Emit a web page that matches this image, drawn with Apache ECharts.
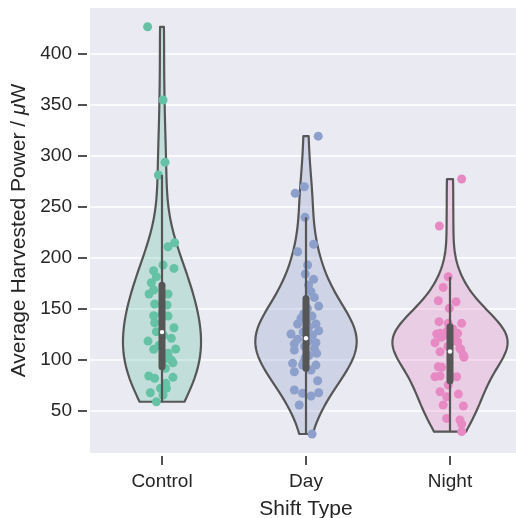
<!DOCTYPE html>
<html lang="en">
<head>
    <meta charset="UTF-8">
    <title>Harvested Power by Shift Type</title>
    <script src="https://cdn.jsdelivr.net/npm/echarts@6/dist/echarts.min.js"></script>
    <style>
        body, html {
            margin: 0;
            padding: 0;
            background-color: #ffffff;
        }
        #chart {
            width: 516px;
            height: 518px;
        }
    </style>
</head>
<body>
    <div id="chart"></div>

    <script>
        // categories and colours (seaborn Set2)
        const categories = ['Control', 'Day', 'Night'];
        const categoryIndex = [0, 1, 2];
        const palette = ['#66c2a5', '#8da0cb', '#e78ac3'];

        // points: value + horizontal jitter (category units)
        // (a few sit behind the box / other dots and are estimated)
        const controlValues = [426, 354.3, 293.3, 280.8, 214.5, 210.6, 192.7, 189.4, 187.1, 181.2, 175.3, 168.2, 164.3, 164.3, 154.5, 153.5, 145, 143, 142.7, 136.2, 131.3, 127.4, 124, 120.9, 118.2, 114, 110.4, 110.1, 106.2, 100, 99.6, 97, 91.5, 84, 82.7, 81.7, 76.8, 71.9, 71.9, 67.6, 65.4, 58.8];
        const controlJitter = [-0.10, 0.007, 0.021, -0.025, 0.088, 0.042, 0.007, 0.083, -0.058, -0.039, -0.074, -0.058, -0.090, 0.042, -0.051, 0.035, 0.0, -0.058, 0.042, -0.051, 0.083, -0.039, 0.01, 0.065, -0.097, -0.02, 0.095, -0.058, 0.042, 0.015, 0.065, 0.076, 0.024, -0.092, 0.076, -0.051, 0.026, -0.011, 0.031, -0.081, 0.007, -0.039];

        const dayValues = [318.9, 269.4, 262.9, 239.4, 213, 205.7, 192.7, 183.9, 178.7, 173.1, 166.5, 161, 152.5, 150, 145, 142.7, 140.5, 138, 134.9, 134.9, 132, 128.3, 127, 125.1, 124.1, 119.9, 118, 116.6, 115.3, 113, 111.1, 109.4, 106.2, 104, 102, 98, 96.4, 94.7, 94.7, 89.8, 88.2, 79.4, 70.3, 67, 64.4, 67.6, 55.6, 27.2];
        const dayJitter = [0.085, -0.012, -0.075, -0.007, 0.053, -0.058, 0.011, -0.005, 0.053, 0.018, 0.035, 0.058, 0.088, 0.01, -0.015, 0.042, -0.035, 0.005, -0.058, 0.069, 0.02, 0.088, -0.02, -0.104, 0.046, -0.058, 0.015, 0.069, -0.081, -0.01, 0.058, -0.081, 0.074, 0.02, -0.005, -0.015, -0.093, 0.069, -0.024, 0.035, -0.081, 0.081, -0.081, -0.024, 0.035, 0.088, -0.047, 0.042];

        const nightValues = [276.9, 230.9, 181.2, 170.8, 157.7, 156.7, 150.3, 137.2, 135.6, 135.6, 130, 128, 125.1, 125.8, 125.8, 124, 122, 120, 118, 116.6, 117.6, 113, 111.1, 110, 107.8, 104.5, 102.3, 93.1, 92.5, 83.3, 84, 83.3, 75.2, 68.6, 66.3, 63.7, 55.6, 54.6, 42.5, 40.9, 36.9, 29.5];
        const nightJitter = [0.081, -0.074, -0.012, -0.047, -0.081, 0.042, -0.005, -0.076, -0.012, 0.081, 0.02, -0.02, -0.092, -0.069, 0.053, -0.02, -0.06, 0.02, 0.015, -0.104, 0.053, -0.015, 0.069, 0.075, -0.069, 0.093, 0.097, -0.081, -0.058, -0.104, -0.069, 0.046, -0.012, -0.069, 0.058, -0.023, -0.047, 0.093, -0.023, 0.069, 0.081, 0.081];

        // inner box
        const boxQ1 = [93, 91.5, 79.4];
        const boxMedian = [127, 121, 108];
        const boxQ3 = [173, 160, 132.3];
        const whiskerLow = [58.8, 27.2, 29.5];
        const whiskerHigh = [280.8, 239.4, 181.2];

        // y axis
        const yMin = 8.6;
        const yMax = 444.4;
        const yTicks = [50, 100, 150, 200, 250, 300, 350, 400];

        const groups = [
            { values: controlValues, jitter: controlJitter },
            { values: dayValues, jitter: dayJitter },
            { values: nightValues, jitter: nightJitter }
        ];

        const lineGray = '#565656';
        const textColor = '#262626';
        const fontFamily = "'Liberation Sans', Arial, sans-serif";

        // gaussian kde, scott bandwidth, cut at data range (like seaborn cut=0)
        function kde(values, gridsize) {
            const n = values.length;
            const mean = values.reduce((a, b) => a + b, 0) / n;
            const variance = values.reduce((a, b) => a + (b - mean) * (b - mean), 0) / (n - 1);
            const bw = Math.sqrt(variance) * Math.pow(n, -0.2);
            const lo = Math.min(...values);
            const hi = Math.max(...values);
            const support = [];
            const density = [];
            for (let i = 0; i < gridsize; i++) {
                const y = lo + (hi - lo) * i / (gridsize - 1);
                let d = 0;
                values.forEach(v => {
                    const z = (y - v) / bw;
                    d += Math.exp(-0.5 * z * z);
                });
                support.push(y);
                density.push(d / (n * bw * Math.sqrt(2 * Math.PI)));
            }
            return { support, density };
        }

        const kdes = groups.map(g => kde(g.values, 100));
        const maxDensity = Math.max(...kdes.map(k => Math.max(...k.density)));

        function hexToRgba(hex, a) {
            const r = parseInt(hex.slice(1, 3), 16);
            const g = parseInt(hex.slice(3, 5), 16);
            const b = parseInt(hex.slice(5, 7), 16);
            return `rgba(${r},${g},${b},${a})`;
        }

        const chart = echarts.init(document.getElementById('chart'), null, { renderer: 'canvas' });

        const scatterSeries = groups.map((g, i) => ({
            type: 'scatter',
            z: 3,
            symbolSize: 9,
            itemStyle: { color: palette[i], opacity: 1 },
            data: g.values.map((v, j) => [i + g.jitter[j], v]),
            silent: true
        }));

        const option = {
            animation: false,
            grid: {
                left: 90,
                top: 8,
                width: 432,
                height: 445,
                containLabel: false,
                outerBoundsMode: 'none',
                show: true,
                backgroundColor: '#EAEAF2',
                borderWidth: 0
            },
            // categories live on a linear axis from -0.5 to 2.5, like matplotlib
            xAxis: {
                type: 'value',
                min: -0.5,
                max: 2.5,
                position: 'bottom',
                offset: 3,
                axisLine: { show: false, onZero: false },
                axisTick: { show: false },
                axisLabel: {
                    customValues: categoryIndex,
                    formatter: v => categories[Math.round(v)],
                    margin: 16, fontSize: 19, color: textColor, fontFamily: fontFamily
                },
                splitLine: { show: false },
                name: 'Shift Type',
                nameLocation: 'middle',
                nameGap: 43,
                nameTextStyle: { fontSize: 21, color: textColor, fontFamily: fontFamily }
            },
            yAxis: {
                type: 'value',
                min: yMin,
                max: yMax,
                position: 'left',
                offset: 3,
                axisLine: { show: false, onZero: false },
                axisTick: { show: true, length: 9, customValues: yTicks, lineStyle: { color: textColor, width: 1.6 } },
                axisLabel: { customValues: yTicks, margin: 15, fontSize: 19, color: textColor, fontFamily: fontFamily },
                splitLine: { show: true, customValues: yTicks, lineStyle: { color: '#ffffff', width: 1.5 } },
                name: 'Average Harvested Power / {m|μ}W',
                nameLocation: 'middle',
                nameGap: 57,
                nameRotate: 90,
                nameTextStyle: {
                    fontSize: 21,
                    color: textColor,
                    fontFamily: fontFamily,
                    rich: { m: { fontSize: 21, fontStyle: 'italic', color: textColor, fontFamily: fontFamily } }
                }
            },
            series: [{
                type: 'custom',
                z: 2,
                silent: true,
                data: categoryIndex.map(i => [i]),
                renderItem: function (params, api) {
                    const i = params.dataIndex;
                    const k = kdes[i];
                    const pts = [];
                    for (let j = 0; j < k.support.length; j++) {
                        pts.push(api.coord([i - 0.4 * k.density[j] / maxDensity, k.support[j]]));
                    }
                    for (let j = k.support.length - 1; j >= 0; j--) {
                        pts.push(api.coord([i + 0.4 * k.density[j] / maxDensity, k.support[j]]));
                    }
                    return {
                        type: 'polygon',
                        shape: { points: pts },
                        style: { fill: hexToRgba(palette[i], 0.3), stroke: lineGray, lineWidth: 2.2, lineJoin: 'round' }
                    };
                }
            }].concat(scatterSeries).concat([{
                type: 'custom',
                z: 4,
                silent: true,
                data: categoryIndex.map(i => [i]),
                renderItem: function (params, api) {
                    const i = params.dataIndex;
                    const lo = api.coord([i, whiskerLow[i]]);
                    const hi = api.coord([i, whiskerHigh[i]]);
                    const q1 = api.coord([i, boxQ1[i]]);
                    const q3 = api.coord([i, boxQ3[i]]);
                    const md = api.coord([i, boxMedian[i]]);
                    return {
                        type: 'group',
                        children: [
                            { type: 'line', shape: { x1: lo[0], y1: lo[1], x2: hi[0], y2: hi[1] }, style: { stroke: lineGray, lineWidth: 2.2 } },
                            { type: 'line', shape: { x1: q1[0], y1: q1[1], x2: q3[0], y2: q3[1] }, style: { stroke: lineGray, lineWidth: 7, lineCap: 'round' } },
                            { type: 'circle', shape: { cx: md[0], cy: md[1], r: 2.2 }, style: { fill: '#ffffff' } }
                        ]
                    };
                }
            }])
        };

        chart.setOption(option);

        // x tick marks under each category, placed through the chart's own scale
        const xTickMarks = categoryIndex.map(i => {
            const p = chart.convertToPixel({ gridIndex: 0 }, [i, yMin]);
            return {
                type: 'line',
                z: 100,
                silent: true,
                shape: { x1: p[0], y1: p[1] + 3, x2: p[0], y2: p[1] + 12 },
                style: { stroke: textColor, lineWidth: 1.6 }
            };
        });
        chart.setOption({ graphic: xTickMarks });
    </script>
</body>
</html>
